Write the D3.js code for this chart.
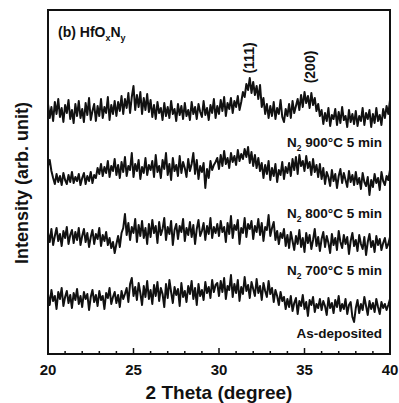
<!DOCTYPE html>
<html>
<head>
<meta charset="utf-8">
<script src="https://cdn.jsdelivr.net/npm/d3@7"></script>
<style>
  body { margin: 0; background: #fff; }
  svg text { font-family: "Liberation Sans", Arial, sans-serif; font-weight: bold; fill: #111; }
</style>
</head>
<body>
<svg id="chart" width="399" height="403"></svg>
<script>
// 2 theta from 20 to 40 in 0.1 degree steps
const thetaStart = 20, thetaStep = 0.1;

// intensities (arb. unit), already offset for stacking
const n900 = [
  250,236,247,233,252,240,255,237,246,232,249,241,254,235,244,231,250,238,253,236,
  245,232,251,239,256,234,243,250,233,248,238,255,236,247,241,257,234,249,240,253,
  238,252,243,258,240,255,246,261,241,257,268,244,259,247,262,240,256,244,260,242,
  254,237,249,235,252,241,246,234,251,238,247,236,253,240,245,233,250,239,248,235,
  251,238,244,234,252,240,247,235,250,242,237,253,239,246,234,249,241,255,236,248,
  240,254,243,257,238,251,245,256,241,253,247,258,244,252,262,257,270,264,276,261,
  272,259,268,255,269,247,256,240,250,236,248,238,252,235,246,240,254,237,232,245,
  238,250,236,253,241,248,255,244,259,247,262,251,258,246,261,249,256,243,250,238,
  244,230,241,233,246,228,239,235,245,229,242,231,247,234,238,227,244,232,240,230,
  243,228,238,233,246,229,241,235,244,227,240,231,246,233,239,229,245,236,248,240,254
];
const n800 = [
  188,194,183,176,170,180,172,178,169,181,174,170,179,172,182,171,177,173,180,169,
  176,181,170,178,173,182,171,179,176,186,180,190,178,187,181,193,177,188,183,195,
  179,189,176,192,182,197,178,188,184,201,177,190,183,194,175,187,181,196,179,189,
  184,193,177,199,182,188,176,194,185,201,179,190,174,196,183,189,178,198,181,192,
  186,177,195,183,190,201,180,194,175,188,182,191,166,185,176,193,184,189,192,196,
  185,199,188,203,190,196,186,201,192,198,189,204,193,200,195,205,197,207,191,202,
  188,199,186,196,183,191,176,189,180,193,174,186,178,190,172,184,179,192,175,187,
  181,191,178,195,184,197,180,199,188,193,183,198,186,192,179,195,182,189,177,190,
  175,186,170,182,177,168,184,173,180,166,178,185,171,181,174,167,183,172,179,169,
  182,170,176,165,181,172,168,177,159,174,167,180,171,176,164,182,173,169,178,174,184
];
const n700 = [
  121,112,125,109,118,126,113,120,108,123,116,127,110,119,124,111,122,114,126,109,
  118,125,112,121,107,117,124,110,120,115,126,108,119,113,122,109,116,106,112,101,
  110,118,107,121,126,140,119,131,114,127,121,135,112,129,118,133,116,126,110,130,
  117,134,121,128,111,132,119,125,136,114,127,120,133,109,124,130,115,128,122,135,
  113,126,119,132,117,129,110,125,134,118,123,131,114,128,120,136,116,127,121,130,
  118,133,122,127,112,131,120,138,116,129,124,134,110,126,121,136,117,130,125,133,
  115,128,122,135,119,131,113,127,124,139,118,126,132,114,123,110,121,116,125,108,
  119,106,122,113,104,118,110,124,107,116,102,121,111,119,105,114,125,108,117,103,
  115,122,107,118,111,101,120,109,116,104,123,112,106,119,110,117,100,113,121,108,
  114,103,119,110,105,117,99,112,120,107,113,102,118,109,115,104,111,116,106,110,117
];
const asDep = [
  60,49,64,53,58,45,62,55,66,48,57,63,51,59,46,61,54,65,50,58,
  47,62,55,60,44,57,64,52,59,48,63,54,58,45,61,56,66,50,57,62,
  51,59,47,63,55,60,66,52,70,76,58,67,54,71,61,49,68,57,73,55,
  64,50,69,58,72,53,66,60,47,70,56,74,62,51,67,59,65,48,71,57,
  63,52,68,60,73,55,66,49,70,58,64,54,72,61,67,56,74,62,69,71,
  58,73,62,76,55,68,64,79,57,70,61,74,53,67,60,77,63,69,56,72,
  65,58,75,61,68,54,71,63,57,73,60,66,52,64,58,49,62,53,57,45,
  55,47,58,43,51,56,40,53,48,59,45,52,38,54,49,57,42,50,46,55,
  44,53,48,39,56,46,51,41,54,47,58,43,50,45,55,40,49,52,37,32,
  46,54,41,50,44,57,48,39,53,45,51,42,55,47,40,52,46,50,44,49,55
];

const seriesData = [n900, n800, n700, asDep];
const seriesTemps = ['900', '800', '700', null];
// label intensity position (arb. unit) for each curve label
const labelLevel = [207, 136, 79, 16];

const peakNames = ['(111)', '(200)'];
const peakTheta = [31.75, 35.3];
const peakLevel = [296, 287];

const xTicks = [20, 25, 30, 35, 40];

const margin = { top: 10, right: 9, bottom: 49, left: 48 };
const width = 399, height = 403;
const svg = d3.select('#chart');

const x = d3.scaleLinear().domain([20, 40]).range([margin.left, width - margin.right]);
const y = d3.scaleLinear().domain([0, 344]).range([height - margin.bottom, margin.top]);

const line = d3.line()
  .x((d, i) => x(thetaStart + i * thetaStep))
  .y(d => y(d));

svg.selectAll('path.curve')
  .data(seriesData)
  .enter().append('path')
  .attr('class', 'curve')
  .attr('d', line)
  .attr('fill', 'none')
  .attr('stroke', '#111')
  .attr('stroke-width', 2)
  .attr('stroke-linejoin', 'round');

// frame
svg.append('rect')
  .attr('x', margin.left).attr('y', margin.top)
  .attr('width', x(40) - x(20)).attr('height', y(0) - y(344))
  .attr('fill', 'none').attr('stroke', '#111').attr('stroke-width', 2);

// bottom axis, ticks inward
const bottom = svg.append('g')
  .attr('transform', `translate(0,${y(0)})`);

bottom.selectAll('line.minor')
  .data(d3.range(21, 40))
  .enter().append('line')
  .attr('x1', d => x(d)).attr('x2', d => x(d))
  .attr('y1', 0).attr('y2', d => d % 5 === 0 ? -6 : -3)
  .attr('stroke', '#111').attr('stroke-width', 1.5);

bottom.selectAll('text')
  .data(xTicks)
  .enter().append('text')
  .attr('x', d => x(d)).attr('y', 21)
  .attr('text-anchor', 'middle')
  .attr('font-size', 15)
  .text(d => d);

svg.append('text')
  .attr('x', 219).attr('y', 399)
  .attr('text-anchor', 'middle')
  .attr('font-size', 19)
  .text('2 Theta (degree)');

svg.append('text')
  .attr('transform', 'translate(28,183) rotate(-90)')
  .attr('text-anchor', 'middle')
  .attr('font-size', 18)
  .text('Intensity (arb. unit)');

// title
const title = svg.append('text')
  .attr('x', 58).attr('y', 37)
  .attr('font-size', 14);
title.append('tspan').text('(b) HfO');
title.append('tspan').attr('font-size', 9).attr('dy', 4).text('x');
title.append('tspan').attr('dy', -4).text('N');
title.append('tspan').attr('font-size', 9).attr('dy', 4).text('y');

// curve labels
seriesTemps.forEach((t, i) => {
  const tx = svg.append('text')
    .attr('x', 382).attr('y', y(labelLevel[i]))
    .attr('text-anchor', 'end')
    .attr('font-size', 13.5);
  if (t) {
    tx.append('tspan').text('N');
    tx.append('tspan').attr('font-size', 8.5).attr('dy', 4).text('2');
    tx.append('tspan').attr('dy', -4).text(' ' + t + '°C 5 min');
  } else {
    tx.text('As-deposited');
  }
});

// peak labels
svg.selectAll('text.peak')
  .data(peakNames)
  .enter().append('text')
  .attr('class', 'peak')
  .attr('transform', (d, i) => `translate(${x(peakTheta[i]) + 5},${y(peakLevel[i])}) rotate(-90)`)
  .attr('text-anchor', 'middle')
  .attr('font-size', 14)
  .text(d => d);
</script>
</body>
</html>
